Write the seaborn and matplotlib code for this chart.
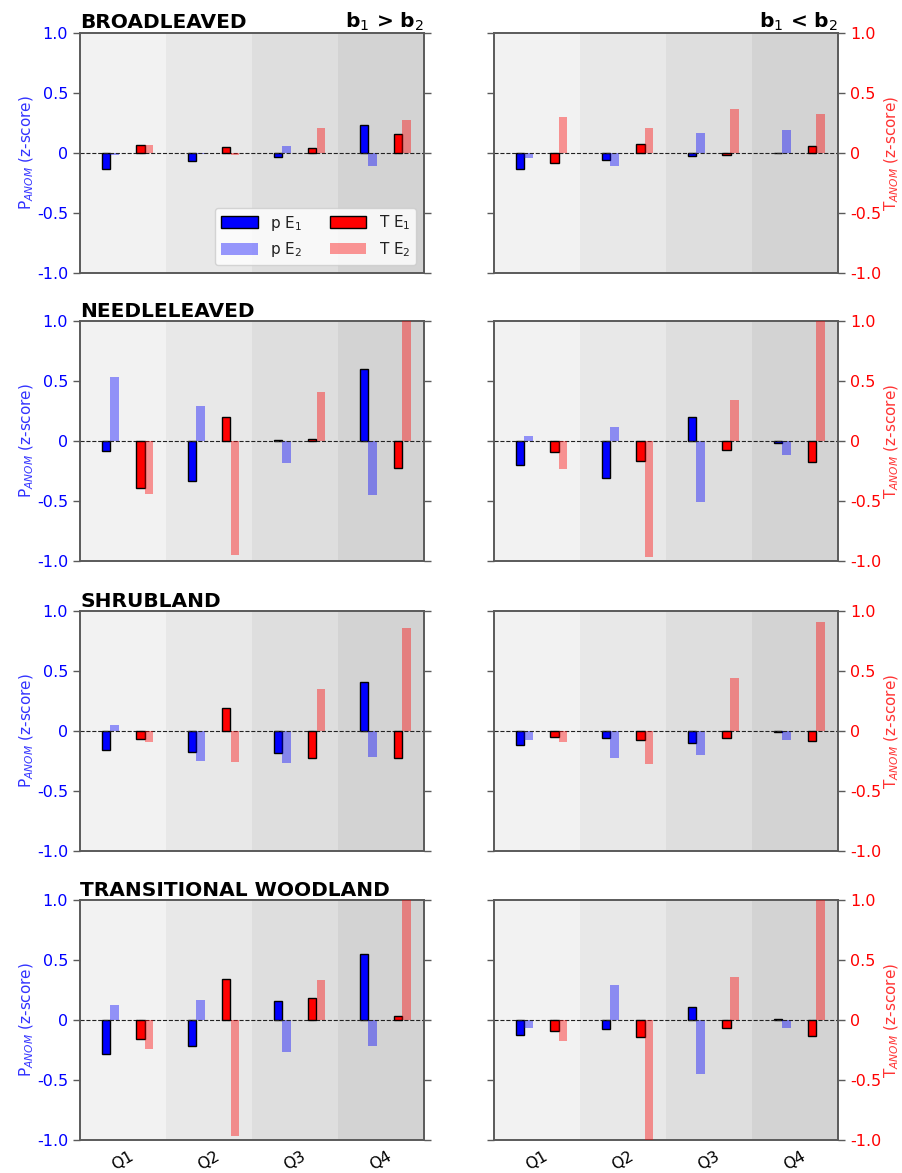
import numpy as np
import pandas as pd
import matplotlib
matplotlib.use("Agg")
import matplotlib.pyplot as plt
from matplotlib.patches import Patch
import seaborn as sns

quarters = ["Q1", "Q2", "Q3", "Q4"]
landcovers = ["BROADLEAVED", "NEEDLELEAVED", "SHRUBLAND", "TRANSITIONAL WOODLAND"]

# b1 > b2 (left column): rows = landcover, cols = Q1..Q4
pE1_gt = [[-0.13, -0.07, -0.03, 0.23],
          [-0.08, -0.33, 0.01, 0.60],
          [-0.155, -0.175, -0.185, 0.41],
          [-0.285, -0.22, 0.155, 0.55]]
pE2_gt = [[-0.02, -0.01, 0.055, -0.11],
          [0.53, 0.29, -0.185, -0.45],
          [0.05, -0.25, -0.27, -0.215],
          [0.125, 0.165, -0.27, -0.22]]
TE1_gt = [[0.067, 0.053, 0.044, 0.16],
          [-0.39, 0.20, 0.014, -0.227],
          [-0.064, 0.194, -0.222, -0.224],
          [-0.155, 0.34, 0.183, 0.03]]
TE2_gt = [[0.07, -0.015, 0.21, 0.275],
          [-0.445, -0.95, 0.41, 1.05],
          [-0.09, -0.26, 0.352, 0.856],
          [-0.24, -0.965, 0.33, 1.05]]

# b1 < b2 (right column)
pE1_lt = [[-0.135, -0.058, -0.028, 0.003],
          [-0.20, -0.307, 0.20, -0.014],
          [-0.12, -0.058, -0.10, -0.008],
          [-0.125, -0.078, 0.11, 0.005]]
pE2_lt = [[-0.044, -0.108, 0.164, 0.19],
          [0.042, 0.12, -0.507, -0.12],
          [-0.075, -0.224, -0.20, -0.072],
          [-0.069, 0.29, -0.449, -0.066]]
TE1_lt = [[-0.086, 0.075, -0.014, 0.056],
          [-0.089, -0.163, -0.078, -0.175],
          [-0.053, -0.078, -0.055, -0.083],
          [-0.091, -0.144, -0.069, -0.133]]
TE2_lt = [[0.297, 0.208, 0.367, 0.328],
          [-0.23, -0.97, 0.338, 1.05],
          [-0.094, -0.274, 0.438, 0.906],
          [-0.172, -1.05, 0.355, 1.05]]

quarter_bg = ["#f2f2f2", "#e8e8e8", "#dedede", "#d3d3d3"]

sns.set_style("white")
plt.rcParams["font.family"] = ["DejaVu Sans"]
plt.rcParams["text.color"] = "black"
plt.rcParams["axes.labelcolor"] = "black"

fig = plt.figure(figsize=(9.02, 11.73), dpi=100)

W, H = 902.0, 1173.0
col_left = [80, 494]
row_top = [33, 321, 611, 900]
pw, ph = 344, 240

spine_c = "#5a5a5a"
xpos = np.arange(4)

series_style = [
    # (offset, color, alpha, edge)
    (-0.2, "blue", 1.0, True),
    (-0.1, "blue", 0.4, False),
    (0.2, "red", 1.0, True),
    (0.3, "red", 0.4, False),
]

for r in range(4):
    for c in range(2):
        left = col_left[c] / W
        bottom = 1 - (row_top[r] + ph) / H
        ax = fig.add_axes([left, bottom, pw / W, ph / H])
        ax2 = ax.twinx()
        if c == 0:
            data = [pE1_gt[r], pE2_gt[r], TE1_gt[r], TE2_gt[r]]
        else:
            data = [pE1_lt[r], pE2_lt[r], TE1_lt[r], TE2_lt[r]]

        for q in range(4):
            ax.axvspan(q - 0.5, q + 0.5, color=quarter_bg[q], lw=0, zorder=0)

        for k, (off, col, al, edge) in enumerate(series_style):
            target = ax if k < 2 else ax2
            df = pd.DataFrame({"x": xpos + off, "y": data[k]})
            kw = dict(edgecolor="black", linewidth=1.0) if edge else dict(linewidth=0)
            sns.barplot(data=df, x="x", y="y", native_scale=True, width=0.1,
                        color=col, alpha=al, saturation=1, errorbar=None,
                        ax=target, zorder=3, **kw)

        ax.axhline(0, color="#222222", ls="--", lw=0.8, zorder=4)

        for a in (ax, ax2):
            a.set_ylim(-1, 1)
            a.set_xlim(-0.5, 3.5)
            a.set_yticks([-1, -0.5, 0, 0.5, 1])
            a.set_xlabel("")
            a.set_ylabel("")
            for s in a.spines.values():
                s.set_color(spine_c)
                s.set_linewidth(1.2)
            a.tick_params(axis="both", colors=spine_c, length=5, width=1.0)
        ax2.patch.set_visible(False)
        ax.set_zorder(0)

        yl = ["-1.0", "-0.5", "0", "0.5", "1.0"]
        if c == 0:
            ax.set_yticklabels(yl, fontsize=11.5)
            ax.tick_params(axis="y", labelcolor="blue")
            ax2.set_yticklabels([])
            ax.set_ylabel(r"P$_{ANOM}$ (z-score)", color="#3333ff", fontsize=11,
                          labelpad=1)
        else:
            ax.set_yticklabels([])
            ax2.set_yticklabels(yl, fontsize=11.5)
            ax2.tick_params(axis="y", labelcolor="red")
            ax2.set_ylabel(r"T$_{ANOM}$ (z-score)", color="#ff3333", fontsize=11,
                           labelpad=1)

        ax.set_xticks(xpos)
        if r == 3:
            ax.set_xticklabels(quarters, rotation=30, fontsize=11.5)
            ax.tick_params(axis="x", labelcolor="black", pad=1)
        else:
            ax.set_xticklabels([])
        ax2.set_xticks(xpos)

        if c == 0:
            ax.set_title(landcovers[r], loc="left", fontweight="bold", fontsize=14.5,
                         pad=3, color="black")
        if r == 0:
            txt = r"b$_1$ > b$_2$" if c == 0 else r"b$_1$ < b$_2$"
            ax.set_title(txt, loc="right", fontweight="bold", fontsize=14.5, pad=3,
                         color="black")

        if r == 0 and c == 0:
            handles = [
                Patch(facecolor="blue", edgecolor="black", label=r"p E$_1$"),
                Patch(facecolor="blue", alpha=0.4, edgecolor="none", label=r"p E$_2$"),
                Patch(facecolor="red", edgecolor="black", label=r"T E$_1$"),
                Patch(facecolor="red", alpha=0.4, edgecolor="none", label=r"T E$_2$"),
            ]
            leg = ax2.legend(handles=handles, ncol=2, loc="lower right", fontsize=11,
                             handlelength=2.4, handleheight=0.8, columnspacing=1.8,
                             frameon=True, fancybox=True, framealpha=0.8)
            for t in leg.get_texts():
                t.set_color("#222222")

fig.savefig("out.png", dpi=100)
